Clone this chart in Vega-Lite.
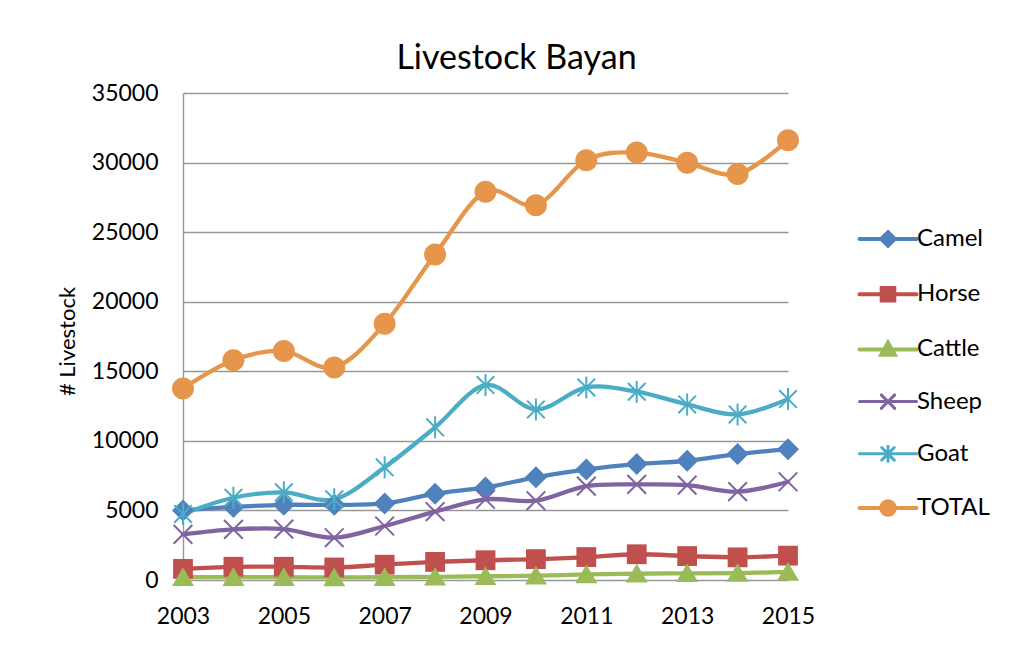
{
  "$schema": "https://vega.github.io/schema/vega-lite/v6.json",
  "autosize": {"type": "none"},
  "width": 605,
  "height": 487,
  "padding": {"left": 183, "top": 93, "right": 225, "bottom": 72},
  "background": "white",
  "config": {
    "view": {"stroke": null},
    "font": "Lato",
    "axis": {"labelFont": "Lato", "titleFont": "Lato", "labelColor": "#000000", "titleColor": "#000000"},
    "legend": {"labelFont": "Lato"}
  },
  "title": {
    "text": "Livestock Bayan",
    "font": "Lato",
    "fontSize": 34,
    "fontWeight": "normal",
    "color": "#000000",
    "anchor": "middle",
    "dx": 31,
    "offset": 6
  },
  "data": {
    "values": [
      {"year": 2003, "series": "Camel", "value": 5000},
      {"year": 2004, "series": "Camel", "value": 5250},
      {"year": 2005, "series": "Camel", "value": 5400},
      {"year": 2006, "series": "Camel", "value": 5400},
      {"year": 2007, "series": "Camel", "value": 5500},
      {"year": 2008, "series": "Camel", "value": 6200},
      {"year": 2009, "series": "Camel", "value": 6650},
      {"year": 2010, "series": "Camel", "value": 7380},
      {"year": 2011, "series": "Camel", "value": 7950},
      {"year": 2012, "series": "Camel", "value": 8330},
      {"year": 2013, "series": "Camel", "value": 8570},
      {"year": 2014, "series": "Camel", "value": 9050},
      {"year": 2015, "series": "Camel", "value": 9400},
      {"year": 2003, "series": "Horse", "value": 800},
      {"year": 2004, "series": "Horse", "value": 950},
      {"year": 2005, "series": "Horse", "value": 950},
      {"year": 2006, "series": "Horse", "value": 900},
      {"year": 2007, "series": "Horse", "value": 1100},
      {"year": 2008, "series": "Horse", "value": 1300},
      {"year": 2009, "series": "Horse", "value": 1420},
      {"year": 2010, "series": "Horse", "value": 1500},
      {"year": 2011, "series": "Horse", "value": 1650},
      {"year": 2012, "series": "Horse", "value": 1850},
      {"year": 2013, "series": "Horse", "value": 1720},
      {"year": 2014, "series": "Horse", "value": 1630},
      {"year": 2015, "series": "Horse", "value": 1750},
      {"year": 2003, "series": "Cattle", "value": 200},
      {"year": 2004, "series": "Cattle", "value": 200},
      {"year": 2005, "series": "Cattle", "value": 200},
      {"year": 2006, "series": "Cattle", "value": 190},
      {"year": 2007, "series": "Cattle", "value": 200},
      {"year": 2008, "series": "Cattle", "value": 230},
      {"year": 2009, "series": "Cattle", "value": 270},
      {"year": 2010, "series": "Cattle", "value": 310},
      {"year": 2011, "series": "Cattle", "value": 400},
      {"year": 2012, "series": "Cattle", "value": 450},
      {"year": 2013, "series": "Cattle", "value": 480},
      {"year": 2014, "series": "Cattle", "value": 500},
      {"year": 2015, "series": "Cattle", "value": 580},
      {"year": 2003, "series": "Sheep", "value": 3280},
      {"year": 2004, "series": "Sheep", "value": 3640},
      {"year": 2005, "series": "Sheep", "value": 3660},
      {"year": 2006, "series": "Sheep", "value": 3040},
      {"year": 2007, "series": "Sheep", "value": 3880},
      {"year": 2008, "series": "Sheep", "value": 4910},
      {"year": 2009, "series": "Sheep", "value": 5800},
      {"year": 2010, "series": "Sheep", "value": 5700},
      {"year": 2011, "series": "Sheep", "value": 6750},
      {"year": 2012, "series": "Sheep", "value": 6870},
      {"year": 2013, "series": "Sheep", "value": 6820},
      {"year": 2014, "series": "Sheep", "value": 6350},
      {"year": 2015, "series": "Sheep", "value": 7060},
      {"year": 2003, "series": "Goat", "value": 4750},
      {"year": 2004, "series": "Goat", "value": 5910},
      {"year": 2005, "series": "Goat", "value": 6300},
      {"year": 2006, "series": "Goat", "value": 5800},
      {"year": 2007, "series": "Goat", "value": 8100},
      {"year": 2008, "series": "Goat", "value": 10970},
      {"year": 2009, "series": "Goat", "value": 14010},
      {"year": 2010, "series": "Goat", "value": 12260},
      {"year": 2011, "series": "Goat", "value": 13840},
      {"year": 2012, "series": "Goat", "value": 13530},
      {"year": 2013, "series": "Goat", "value": 12620},
      {"year": 2014, "series": "Goat", "value": 11900},
      {"year": 2015, "series": "Goat", "value": 13000},
      {"year": 2003, "series": "TOTAL", "value": 13770},
      {"year": 2004, "series": "TOTAL", "value": 15800},
      {"year": 2005, "series": "TOTAL", "value": 16450},
      {"year": 2006, "series": "TOTAL", "value": 15280},
      {"year": 2007, "series": "TOTAL", "value": 18410},
      {"year": 2008, "series": "TOTAL", "value": 23400},
      {"year": 2009, "series": "TOTAL", "value": 27900},
      {"year": 2010, "series": "TOTAL", "value": 26940},
      {"year": 2011, "series": "TOTAL", "value": 30170},
      {"year": 2012, "series": "TOTAL", "value": 30720},
      {"year": 2013, "series": "TOTAL", "value": 29980},
      {"year": 2014, "series": "TOTAL", "value": 29170},
      {"year": 2015, "series": "TOTAL", "value": 31610}
    ]
  },
  "encoding": {
    "x": {
      "field": "year",
      "type": "quantitative",
      "scale": {"domain": [2003, 2015], "nice": false, "zero": false},
      "axis": {
        "title": null,
        "values": [2003, 2005, 2007, 2009, 2011, 2013, 2015],
        "format": "d",
        "grid": false,
        "ticks": false,
        "domain": false,
        "labelFontSize": 23,
        "labelPadding": 25,
        "labelFlush": false
      }
    },
    "y": {
      "field": "value",
      "type": "quantitative",
      "scale": {"domain": [0, 35000], "nice": false},
      "axis": {
        "title": "# Livestock",
        "titleFontSize": 22,
        "titleFontWeight": "normal",
        "titlePadding": 12,
        "titleY": 248,
        "values": [0, 5000, 10000, 15000, 20000, 25000, 30000, 35000],
        "format": "d",
        "labelFontSize": 23,
        "labelPadding": 25,
        "ticks": false,
        "grid": true,
        "gridColor": "#979797",
        "gridWidth": 1.4,
        "domain": true,
        "domainColor": "#979797",
        "domainWidth": 1.4
      }
    },
    "color": {
      "field": "series",
      "type": "nominal",
      "scale": {
        "domain": ["Camel", "Horse", "Cattle", "Sheep", "Goat", "TOTAL"],
        "range": ["#4F81BD", "#C0504D", "#9BBB59", "#8064A2", "#4BACC6", "#E5964B"]
      },
      "legend": {
        "title": null,
        "orient": "none",
        "legendX": 693,
        "legendY": 134,
        "padding": 0,
        "symbolSize": 900,
        "labelFontSize": 24,
        "labelColor": "#000000",
        "labelOffset": 17,
        "rowPadding": 25.2,
        "symbolOpacity": 1,
        "encode": {
          "symbols": {
            "update": {
              "shape": {"signal": "datum.value === 'Camel' ? 'M-1.9,0L1.9,0M0,-0.45L0.45,0L0,0.45L-0.45,0Z' : datum.value === 'Horse' ? 'M-1.9,0L1.9,0M-0.42,-0.42L0.42,-0.42L0.42,0.42L-0.42,0.42Z' : datum.value === 'Cattle' ? 'M-1.9,0L1.9,0M0,-0.45L0.45,0.35L-0.45,0.35Z' : datum.value === 'Sheep' ? 'M-1.9,0L1.9,0M-0.45,-0.45L0.45,0.45M-0.45,0.45L0.45,-0.45' : datum.value === 'Goat' ? 'M-1.9,0L1.9,0M-0.42,-0.42L0.42,0.42M-0.42,0.42L0.42,-0.42M0,-0.5L0,0.5' : 'M-1.9,0L1.9,0M-0.45,0A0.45,0.45,0,1,0,0.45,0A0.45,0.45,0,1,0,-0.45,0Z'"},
              "fill": {"signal": "scale('color', datum.value)"},
              "stroke": {"signal": "scale('color', datum.value)"},
              "strokeWidth": {"signal": "datum.value === 'Sheep' || datum.value === 'Goat' ? 3 : 4"},
              "strokeCap": {"value": "round"},
              "opacity": {"value": 1}
            }
          }
        }
      }
    }
  },
  "layer": [
    {
      "mark": {"type": "line", "interpolate": "cardinal", "strokeWidth": 4.3, "strokeCap": "round"}
    },
    {
      "transform": [{"filter": {"field": "series", "oneOf": ["Camel", "Horse", "Cattle", "TOTAL"]}}],
      "mark": {"type": "point", "filled": true, "size": 484, "opacity": 1},
      "encoding": {
        "shape": {
          "field": "series",
          "type": "nominal",
          "legend": null,
          "scale": {
            "domain": ["TOTAL", "Camel", "Horse", "Cattle", "Sheep", "Goat"],
            "range": [
              "M-1,0A1,1,0,1,0,1,0A1,1,0,1,0,-1,0Z",
              "M0,-1L1,0L0,1L-1,0Z",
              "M-0.9,-0.9L0.9,-0.9L0.9,0.9L-0.9,0.9Z",
              "M0,-0.9L1,0.8L-1,0.8Z",
              "M-0.85,-0.85L0.85,0.85M-0.85,0.85L0.85,-0.85",
              "M-0.8,-0.8L0.8,0.8M-0.8,0.8L0.8,-0.8M0,-1L0,1"
            ]
          }
        }
      }
    },
    {
      "transform": [{"filter": {"field": "series", "oneOf": ["Sheep", "Goat"]}}],
      "mark": {"type": "point", "filled": false, "size": 484, "strokeWidth": 2, "opacity": 1},
      "encoding": {
        "shape": {
          "field": "series",
          "type": "nominal",
          "legend": null,
          "scale": {
            "domain": ["TOTAL", "Camel", "Horse", "Cattle", "Sheep", "Goat"],
            "range": [
              "M-1,0A1,1,0,1,0,1,0A1,1,0,1,0,-1,0Z",
              "M0,-1L1,0L0,1L-1,0Z",
              "M-0.9,-0.9L0.9,-0.9L0.9,0.9L-0.9,0.9Z",
              "M0,-0.9L1,0.8L-1,0.8Z",
              "M-0.85,-0.85L0.85,0.85M-0.85,0.85L0.85,-0.85",
              "M-0.8,-0.8L0.8,0.8M-0.8,0.8L0.8,-0.8M0,-1L0,1"
            ]
          }
        }
      }
    }
  ]
}
